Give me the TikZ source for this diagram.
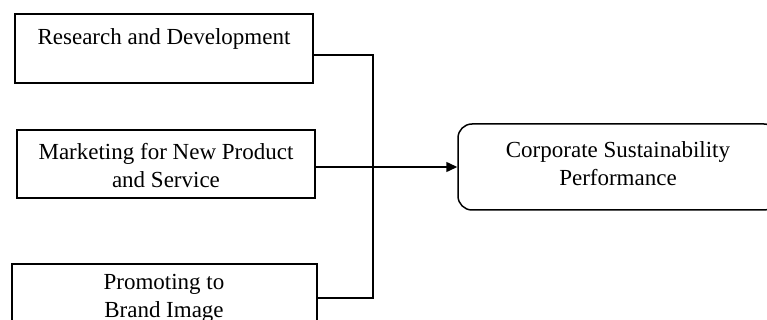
\documentclass[tikz,border=0pt]{standalone}
\usepackage{fontspec}
\setmainfont{Liberation Serif}
\usetikzlibrary{arrows.meta}
\begin{document}
\begin{tikzpicture}[x=0.5pt,y=-0.5pt,
  box/.style={draw, line width=0.75pt, inner sep=0pt},
  lbl/.style={font=\fontsize{11.5}{14}\selectfont, align=center, inner sep=0pt},
  conn/.style={line width=0.75pt},
  arr/.style={line width=0.75pt, -{Triangle[length=5.5pt,width=5pt]}}]
\useasboundingbox (0,0) rectangle (767,320);
\clip (0,0) rectangle (767,320);
% boxes
\node[box, minimum width=149pt, minimum height=34.5pt] (rd) at (164,48.5) {};
\node[lbl] (rdt) at (164,39) {Research and Development};
\node[box, minimum width=149pt, minimum height=34pt] (mk) at (166,164) {};
\node[lbl] (mkt) at (166,166) {Marketing for New Product\\and Service};
\node[box, minimum width=152.5pt, minimum height=34pt] (br) at (164.5,298) {};
\node[lbl] (brt) at (164,298) {Promoting to\\Brand Image};
\node[box, rounded corners=7pt, minimum width=160pt, minimum height=43pt] (csp) at (618,167) {};
\node[lbl] (cspt) at (618,164) {Corporate Sustainability\\Performance};
% connectors
\coordinate (j1) at (373,55);
\coordinate (j3) at (373,298);
\draw[conn] (rd.east |- j1) -- (j1) -- (j3) -- (br.east |- j3);
\draw[arr] (mk.east |- csp.west) -- (csp.west);
\end{tikzpicture}
\end{document}
